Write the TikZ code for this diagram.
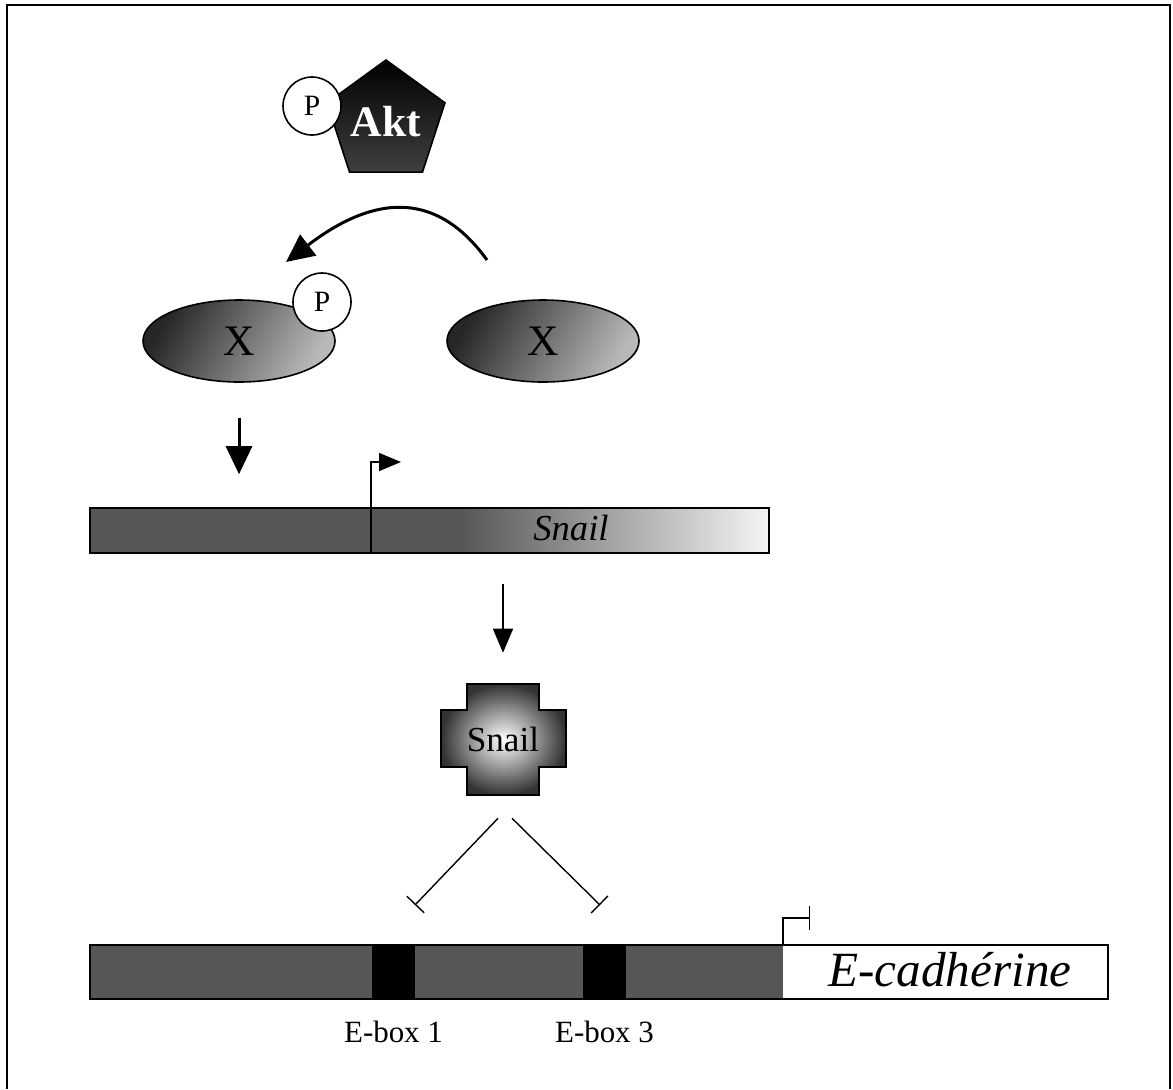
\documentclass[tikz,border=0pt]{standalone}
\usepackage{fontspec}
\setmainfont{Liberation Serif}
\usepackage{tikz}
\usetikzlibrary{shapes.geometric, arrows.meta}
\pgfdeclarelayer{bg}
\pgfsetlayers{bg,main}
\definecolor{genegray}{HTML}{565656}
\definecolor{protdark}{HTML}{262626}
\tikzset{every label/.append style={inner sep=0pt, font=\fontsize{22}{22}\selectfont}}
\tikzset{
    phos/.style={circle, draw, fill=white, line width=0.4mm, minimum size=14.5mm,
    	inner sep=0pt, font=\fontsize{21}{21}\selectfont},
    kinase/.style={regular polygon, regular polygon sides=5, draw, line width=0.4mm,
    	minimum size=31mm, inner sep=0pt, top color=black, bottom color=gray!50!black,
    	text=white, font=\fontsize{31}{31}\selectfont\bfseries},
    prot/.style={ellipse, draw, line width=0.4mm, minimum width=48mm,
    	minimum height=20.5mm, left color=protdark, right color=gray!55,
    	shading angle=60, font=\fontsize{31}{31}\selectfont},
    gene/.style={rectangle, draw, line width=0.4mm, inner sep=0pt},
    ebox/.style={rectangle, fill=black, inner sep=0pt, minimum width=10.75mm,
    	minimum height=13.5mm},
    act/.style={line width=0.75mm, -{Triangle[length=7mm, width=6.5mm]}},
    thinact/.style={line width=0.35mm, -{Triangle[length=6mm, width=5mm]}},
    tss/.style={line width=0.35mm, -{Triangle[length=5.5mm, width=4.5mm]}},
    inhib/.style={line width=0.35mm, -{Bar[width=6mm, line width=0.35mm]}}
}

\begin{document}
\begin{tikzpicture}[x=0.25mm, y=-0.25mm]
  \useasboundingbox (0,0) rectangle (1173,1089);
  \draw[line width=0.5mm] (7,1089) -- (7,5) -- (1170,5) -- (1170,1089);

  \node (akt) [kinase] at (386,122) {Akt};
  \node (pakt) [phos] at (312,106) {P};
  \node (xa) [prot] at (239,341) {X};
  \node (xb) [prot] at (543,341) {X};
  \node (px) [phos] at (322,302) {P};

  \coordinate (c0) at (487,260);
  \coordinate (c1) at (286,262);
  \draw[act] (c0) .. controls (440,195) and (380,190) .. (c1);

  \node (snailgene) [gene, minimum width=169.75mm, minimum height=11.25mm] at (429.5,530.5) {};
  \node (snailtxt) [font=\fontsize{26}{26}\selectfont\itshape] at (571,528) {Snail};
  \coordinate (tss1) at (371,553);
  \draw[tss] (tss1) -- ++(0,-91) -- ++(30,0);

  \shadedraw[line width=0.4mm, inner color=white, outer color=gray!40!black]
    (467,684) -- (539,684) -- (539,710) -- (566,710) -- (566,767) -- (539,767)
    -- (539,795) -- (467,795) -- (467,767) -- (441,767) -- (441,710) -- (467,710) -- cycle;
  \node (snailprot) [minimum width=18mm, minimum height=27.75mm, inner sep=0pt,
    font=\fontsize{25}{25}\selectfont] at (503,739.5) {Snail};

  \node (ebox1) [ebox, label={[label distance=5.4mm]below:E-box 1}] at (393.5,972) {};
  \node (ebox3) [ebox, label={[label distance=5.4mm]below:E-box 3}] at (604.5,972) {};
  \node (ecadgene) [gene, minimum width=254.5mm, minimum height=13.5mm] at (599,972) {};
  \node (ecadtxt) [font=\fontsize{35}{35}\selectfont\itshape] at (950,970) {E-cadhérine};
  \coordinate (tss2) at (783,945);
  \draw[inhib] (tss2) -- ++(0,-27) -- ++(27,0);

  \coordinate (rep1) at (415,905);
  \coordinate (rep3) at (600,905);

  \begin{pgfonlayer}{bg}
    \fill[genegray] (snailgene.north west) rectangle (460,553);
    \shade[left color=genegray, right color=gray!8] (460,508) rectangle (snailgene.south east);
    \fill[genegray] (ecadgene.north west) rectangle (tss2 |- ecadgene.south);
  \end{pgfonlayer}

  \draw[act, shorten <=8.75mm, shorten >=8.25mm] (xa.south) -- (xa.south |- snailgene.north);
  \draw[thinact, shorten <=7.5mm, shorten >=7.75mm] (snailgene.south -| snailprot.north) -- (snailprot.north);
  \draw[inhib] ([shift={(-5,23)}]snailprot.south) -- (rep1);
  \draw[inhib] ([shift={(9,23)}]snailprot.south) -- (rep3);

\end{tikzpicture}
\end{document}
